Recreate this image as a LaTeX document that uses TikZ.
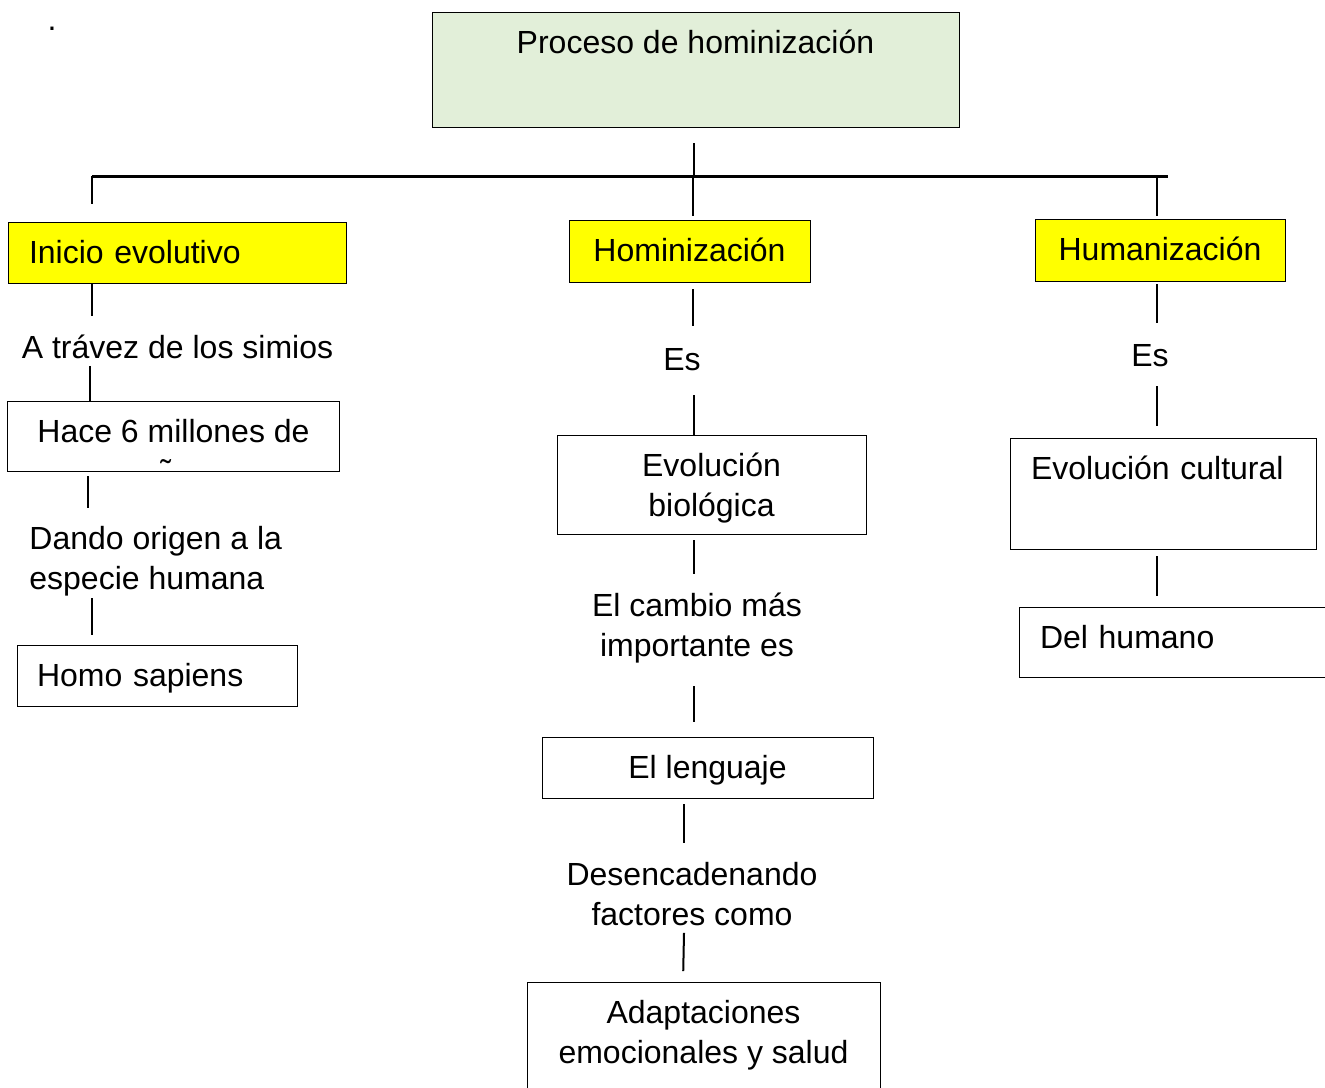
\documentclass[tikz,border=0pt]{standalone}
\usepackage{fontspec}
\setmainfont{Liberation Sans}
\usetikzlibrary{positioning,calc}
\definecolor{verdeclaro}{RGB}{226,239,217}
\definecolor{amarillo}{RGB}{255,255,0}

\tikzset{
	caja/.style={draw, line width=0.5pt, anchor=north, inner xsep=10.5pt, inner ysep=9pt,
		text height=11.5pt, font=\fontsize{16}{20}\selectfont},
	dos lineas/.style={text height=31.5pt},
	etiqueta/.style={inner sep=0pt, text height=11.75pt, text depth=3.5pt,
		font=\fontsize{16}{20}\selectfont},
	conector/.style={line width=1pt}
}

\begin{document}
\begin{tikzpicture}[x=0.5pt,y=-0.5pt]
		\useasboundingbox (0,0) rectangle (1325,1087);
		\node[etiqueta, anchor=base] (punto) at (52,30) {.};
		% cajas principales
		\node[caja, fill=verdeclaro, minimum width=263.5pt, text depth=28pt] (top) at (695.5,12) {Proceso de hominización};
		\node[caja, fill=amarillo, minimum width=169pt, text width=148pt, align=left, text depth=1pt] (ini) at (177,222) {Inicio evolutivo};
		\node[caja, fill=amarillo, minimum width=120.5pt, text depth=1.5pt] (hom) at (689.5,220) {Hominización};
		\node[caja, fill=amarillo, minimum width=125pt, text depth=1.5pt] (hum) at (1160,219) {Humanización};
		% barra
		\coordinate (barl) at (92,176);
		\coordinate (barr) at (1168,176);
		\draw[line width=1.5pt] (barl) -- (barr);
		% columna izquierda
		\node[etiqueta, anchor=base] (simios) at (177.5,358.5) {A trávez de los simios};
		\begin{scope}
			\clip (0,0) rectangle (1325,463);
			\node[caja, dos lineas, draw=none, minimum width=165.5pt, align=center, text depth=5.5pt] (hace) at (173.5,401) {Hace 6 millones de\\años};
		\end{scope}
		\draw[line width=0.5pt] (hace.north west) rectangle ($(hace.north east)+(0,70)$);
		\coordinate (hacebajo) at ($(hace.north)+(0,70)$);
		\node[etiqueta, dos lineas, anchor=north west, align=left] (dando) at (29,526) {Dando origen a la\\especie humana};
		\node[caja, minimum width=140pt, text width=120pt, inner xsep=10pt, align=left, text depth=1pt] (homo) at (157,645) {Homo sapiens};
		% columna central
		\node[etiqueta, anchor=base] (esm) at (682,370.5) {Es};
		\node[caja, dos lineas, minimum width=154.5pt, align=center, text depth=-1pt] (evbio) at (711.5,435) {Evolución\\biológica};
		\node[etiqueta, dos lineas, anchor=north, align=center] (cambio) at (697,593) {El cambio más\\importante es};
		\node[caja, minimum width=165.5pt, text depth=1pt] (leng) at (707.5,737) {El lenguaje};
		\node[etiqueta, dos lineas, anchor=north, align=center] (desenc) at (692,862) {Desencadenando\\factores como};
		\node[caja, dos lineas, minimum width=176.5pt, align=center, text depth=25.5pt] (adapt) at (703.5,982) {Adaptaciones\\emocionales y salud};
		% columna derecha
		\node[etiqueta, anchor=base] (esr) at (1150,366.5) {Es};
		\node[caja, minimum width=153pt, text width=132pt, align=left, text depth=26pt] (evcult) at (1163,438) {Evolución cultural};
		\node[caja, minimum width=163pt, text width=142pt, align=left, text depth=5.5pt] (delhum) at (1182,607) {Del humano};
		% conectores
		\draw[conector, shorten <=7.5pt] (top.south -| 694,0) -- (barl -| 694,0);
		\draw[conector, shorten >=9pt] (barl) -- (ini.north -| barl);
		\draw[conector, shorten >=2pt] (barl -| 693,0) -- (hom.north -| 693,0);
		\draw[conector, shorten >=1.5pt] (barl -| 1157,0) -- (hum.north -| 1157,0);
		\draw[conector, shorten >=9.5pt] (ini.south -| 92,0) -- (simios.north -| 92,0);
		\draw[conector] (simios.south -| 90,0) -- (hace.north -| 90,0);
		\draw[conector, shorten <=2.5pt, shorten >=9pt] (hacebajo -| 88,0) -- (dando.north -| 88,0);
		\draw[conector, shorten <=0.75pt, shorten >=5pt] (dando.south -| 92,0) -- (homo.north -| 92,0);
		\draw[conector, shorten <=3pt, shorten >=10.5pt] (hom.south -| 693,0) -- (esm.north -| 693,0);
		\draw[conector, shorten <=8.75pt] (esm.south -| 694,0) -- (evbio.north -| 694,0);
		\draw[conector, shorten <=2.5pt, shorten >=9.5pt] (evbio.south -| 694,0) -- (cambio.north -| 694,0);
		\draw[conector, shorten <=11.25pt, shorten >=7.5pt] (cambio.south -| 694,0) -- (leng.north -| 694,0);
		\draw[conector, shorten <=2.5pt, shorten >=9.5pt] (leng.south -| 684,0) -- (desenc.north -| 684,0);
		\draw[conector, shorten >=5.5pt] (desenc.south -| 684,0) -- (adapt.north -| 683,0);
		\draw[conector, shorten <=1pt, shorten >=10pt] (hum.south -| 1157,0) -- (esr.north -| 1157,0);
		\draw[conector, shorten <=6.25pt, shorten >=6pt] (esr.south -| 1157,0) -- (evcult.north -| 1157,0);
		\draw[conector, shorten <=3pt, shorten >=5.5pt] (evcult.south -| 1157,0) -- (delhum.north -| 1157,0);
	\end{tikzpicture}
\end{document}
